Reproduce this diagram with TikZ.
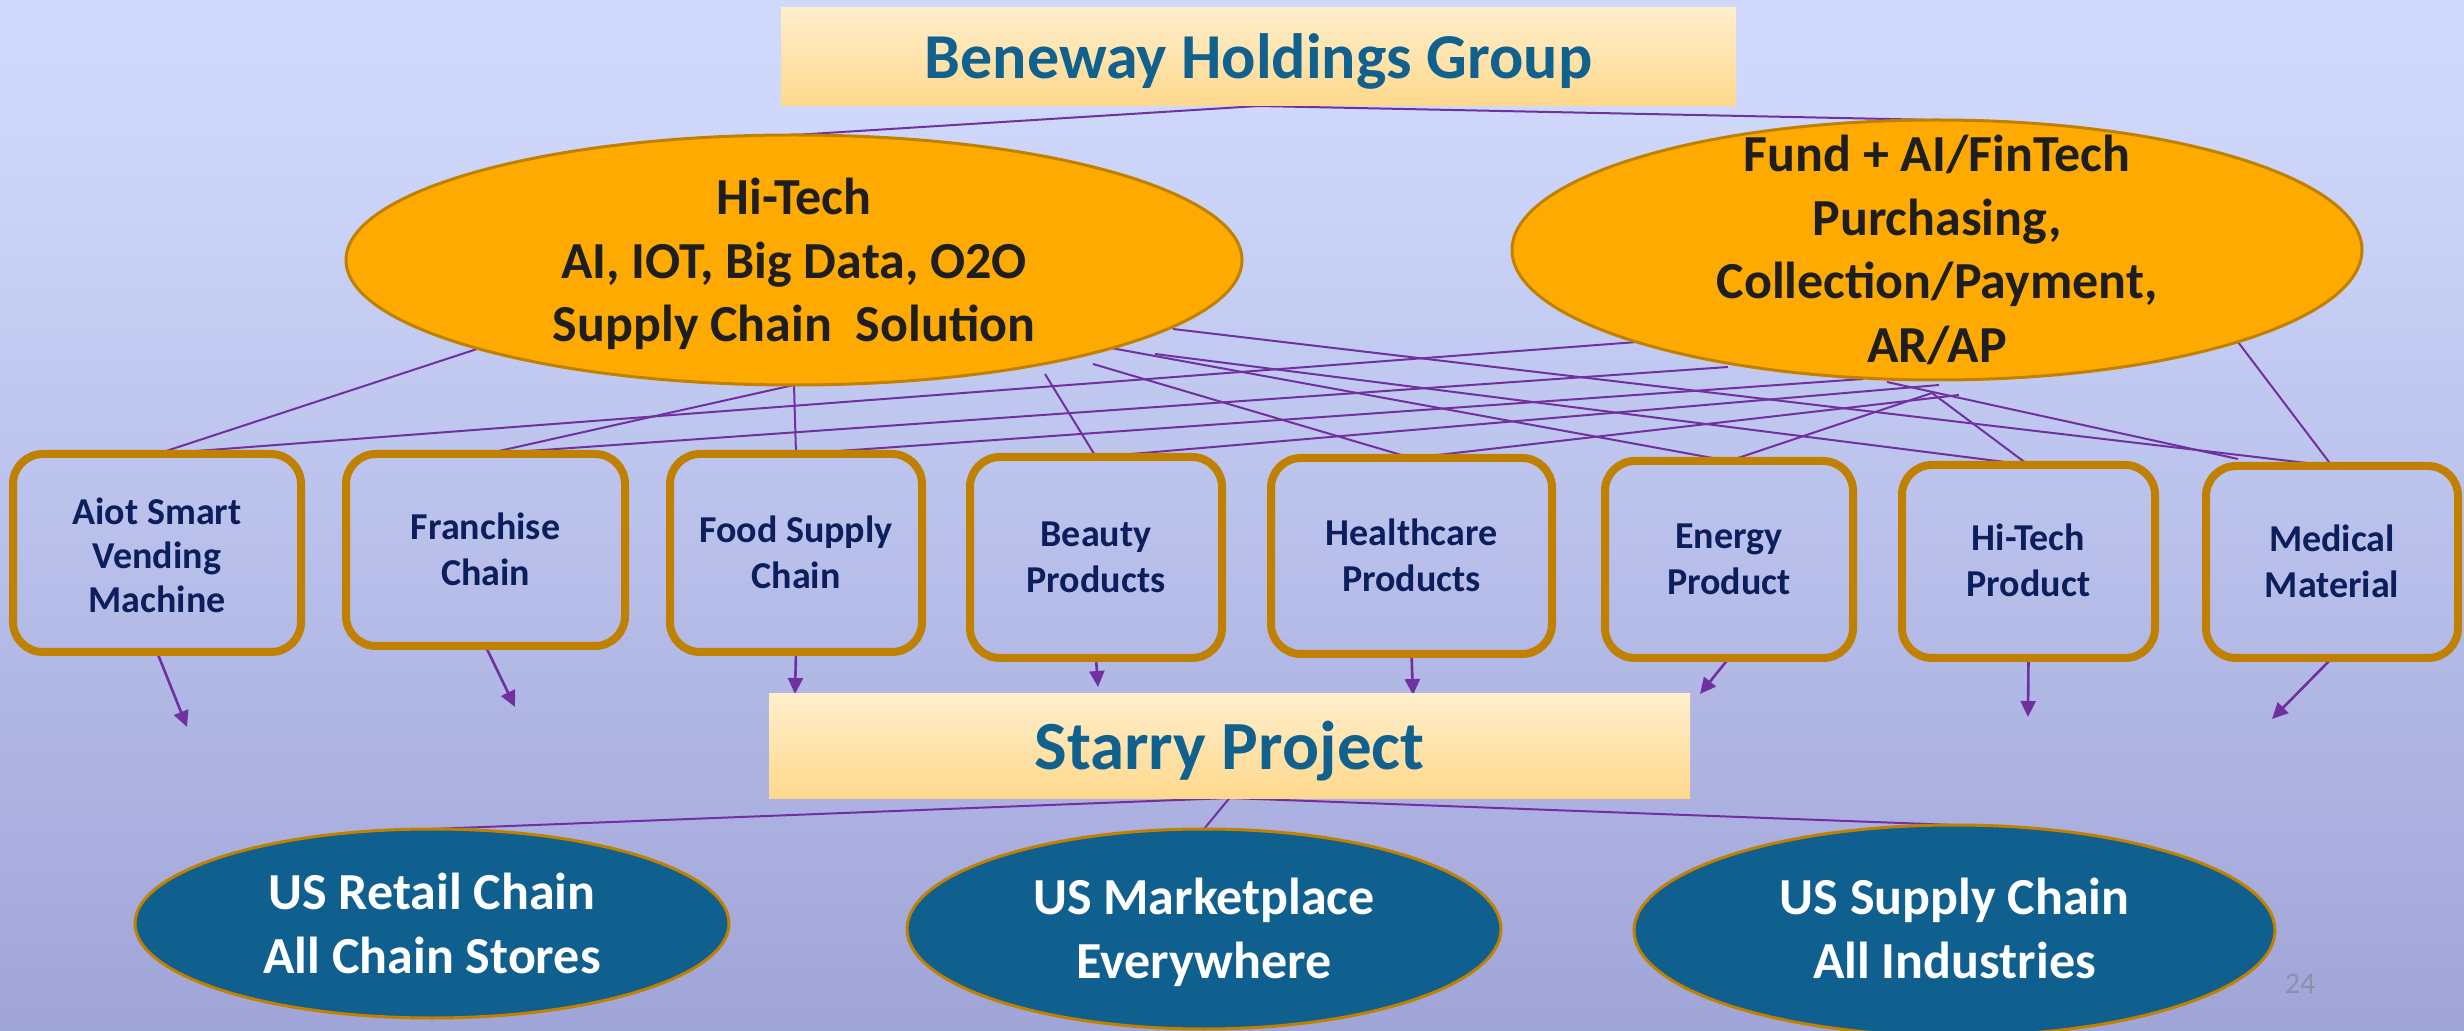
\documentclass[tikz,border=0pt]{standalone}
\usepackage{fontspec}
\setmainfont{Carlito}
\usetikzlibrary{shapes.geometric,arrows.meta,calc}

\definecolor{bgT}{RGB}{213,223,254}
\definecolor{bgM}{RGB}{207,216,251}
\definecolor{bgB}{RGB}{134,136,196}
\definecolor{banT}{RGB}{255,250,236}
\definecolor{banM}{RGB}{255,216,140}
\definecolor{banB}{RGB}{255,230,178}
\definecolor{titleblue}{RGB}{17,97,143}
\definecolor{ellorange}{RGB}{255,170,0}
\definecolor{ellborder}{RGB}{192,128,0}
\definecolor{tealfill}{RGB}{16,96,143}
\definecolor{darktext}{RGB}{30,30,30}
\definecolor{boxborder}{RGB}{192,128,0}
\definecolor{boxtext}{RGB}{12,30,92}
\definecolor{linkpurple}{RGB}{112,48,160}
\definecolor{pagegray}{RGB}{140,142,170}

\pgfdeclareverticalshading{bgshade}{100bp}{color(0bp)=(bgB); color(70bp)=(bgM); color(100bp)=(bgT)}
\pgfdeclareverticalshading{banshade}{100bp}{color(0bp)=(banB); color(25bp)=(banM); color(100bp)=(banT)}

\newcommand\mytop[1]{\rule{0pt}{#1pt}}
\newcommand\mybot[1]{\rule[-#1pt]{0pt}{0pt}}

\pgfdeclarelayer{background}
\pgfdeclarelayer{lines}
\pgfsetlayers{background,lines,main}

\tikzset{
  banner/.style={rectangle, inner sep=0pt, outer sep=0pt, shade, shading=banshade, text=titleblue},
  orangeell/.style={ellipse, inner xsep=0pt, inner ysep=-30pt, outer sep=0pt, fill=ellorange, draw=ellborder, line width=1.5pt, text=darktext, align=center, font=\fontsize{26}{31.75}\selectfont\bfseries},
  tealell/.style={ellipse, inner xsep=0pt, inner ysep=-30pt, outer sep=0pt, fill=tealfill, draw=ellborder, line width=1.5pt, text=white, align=center, font=\fontsize{26}{32}\selectfont\bfseries},
  catbox/.style={rectangle, rounded corners=15pt, draw=boxborder, line width=4pt, inner sep=0pt, outer sep=0pt, text=boxtext, align=center, font=\fontsize{19}{23}\selectfont\bfseries},
  conn/.style={draw=linkpurple, line width=1pt},
  arr/.style={draw=linkpurple, line width=1.3pt, -{Triangle[length=8pt,width=7.5pt]}}
}

\begin{document}
\begin{tikzpicture}[x=0.5pt, y=-0.5pt]
\useasboundingbox (0,0) rectangle (2464,1031);
\begin{pgfonlayer}{background}
  \shade[shading=bgshade] (0,0) rectangle (2464,1031);
\end{pgfonlayer}

% top banner
\node[banner, minimum width=477.5pt, minimum height=49pt, font=\fontsize{32}{38}\selectfont\bfseries] (top) at (1258.5,57) {\mytop{30}\mybot{8}Beneway Holdings Group};

% level-1 ellipses
\node[orangeell, minimum width=448pt, minimum height=125pt] (hitech) at (794,260)
  {\mytop{26.5}Hi-Tech\\AI, IOT, Big Data, O2O\\Supply Chain~ Solution\mybot{8}};
\node[orangeell, minimum width=425pt, minimum height=130pt] (fund) at (1937,250)
  {\mytop{25.25}Fund + AI/FinTech\\Purchasing,\\Collection/Payment,\\AR/AP\mybot{8}};

% category boxes
\node[catbox, minimum width=144pt, minimum height=99pt, font=\fontsize{19}{22}\selectfont\bfseries] (b1) at (157,553) {\mytop{22}Aiot Smart\\Vending\\Machine\mybot{6}};
\node[catbox, minimum width=139.5pt, minimum height=96pt] (b2) at (485.5,550) {\mytop{18.5}Franchise\\Chain\mybot{6}};
\node[catbox, minimum width=126pt, minimum height=99pt] (b3) at (796,553) {\mytop{18.5}Food Supply\\Chain\mybot{6}};
\node[catbox, minimum width=126pt, minimum height=100.5pt] (b4) at (1096,557.5) {\mytop{18.5}Beauty\\Products\mybot{6}};
\node[catbox, minimum width=140.5pt, minimum height=98pt] (b5) at (1411.5,556) {\mytop{18.5}Healthcare\\Products\mybot{6}};
\node[catbox, minimum width=124pt, minimum height=98.5pt] (b6) at (1729,559.5) {\mytop{18.5}Energy\\Product\mybot{6}};
\node[catbox, minimum width=126.5pt, minimum height=96.5pt] (b7) at (2028.5,561.5) {\mytop{18.5}Hi-Tech\\Product\mybot{6}};
\node[catbox, minimum width=126pt, minimum height=96pt] (b8) at (2332,562) {\mytop{18.5}Medical\\Material\mybot{6}};

% Starry banner
\node[banner, minimum width=460.5pt, minimum height=52pt, font=\fontsize{34.5}{40}\selectfont\bfseries] (starry) at (1229.5,746) {\mytop{31.3}\mybot{8}Starry Project};

% bottom ellipses
\node[tealell, minimum width=297pt, minimum height=94.5pt] (e1) at (432,923.5) {\mytop{25.5}US Retail Chain\\All Chain Stores\mybot{8}};
\node[tealell, minimum width=297pt, minimum height=100pt] (e2) at (1204,929) {\mytop{25.5}US Marketplace\\Everywhere\mybot{8}};
\node[tealell, minimum width=320.5pt, minimum height=105.5pt] (e3) at (1954.5,930.5) {\mytop{24}US Supply Chain\\All Industries\mybot{8}};

% page number
\node[anchor=base, inner sep=0pt, font=\fontsize{15}{18}\selectfont, text=pagegray] (pnum) at (2300,993) {24};

% arrow tips
\coordinate (t1) at (187,727);
\coordinate (t2) at (515,707);
\coordinate (t3) at (795,694);
\coordinate (t4) at (1098,687);
\coordinate (t5) at (1413,695);
\coordinate (t6) at (1700,694);
\coordinate (t7) at (2028,717);
\coordinate (t8) at (2272,719);

\begin{pgfonlayer}{lines}
  \draw[conn] (top.south) -- (hitech.north);
  \draw[conn] (top.south) -- (fund.north);

  \draw[conn] ([shift={(-317,89)}]hitech.center) -- (b1.north);
  \draw[conn] (hitech.south) -- (b2.north);
  \draw[conn] (hitech.south) -- (b3.north);
  \draw[conn] ([shift={(251,114)}]hitech.center) -- (b4.north);
  \draw[conn] ([shift={(299,104)}]hitech.center) -- (b5.north);
  \draw[conn] ([shift={(317,88)}]hitech.center) -- (b6.north);
  \draw[conn] ([shift={(361,94)}]hitech.center) -- (b7.north);
  \draw[conn] ([shift={(379,69)}]hitech.center) -- (b8.north);

  \draw[conn] (b1.north) -- ([shift={(-300,92)}]fund.center);
  \draw[conn] (b2.north) -- ([shift={(-209,117)}]fund.center);
  \draw[conn] (b3.north) -- ([shift={(-74,129)}]fund.center);
  \draw[conn] (b4.north) -- ([shift={(2,135)}]fund.center);
  \draw[conn] (b5.north) -- ([shift={(22,145)}]fund.center);
  \draw[conn] (b6.north) -- ([shift={(-5,143)}]fund.center);
  \draw[conn] (b7.north) -- ([shift={(-5,143)}]fund.center);
  \draw[conn] (b8.north) -- ([shift={(301,92)}]fund.center);
  \draw[conn] ([shift={(-50,132)}]fund.center) -- ([shift={(-94,-7)}]b8.north);

  \draw[conn] (starry.south) -- (e1.north);
  \draw[conn] (starry.south) -- (e2.north);
  \draw[conn] (starry.south) -- (e3.north);

  \draw[arr] (b1.south) -- (t1);
  \draw[arr] (b2.south) -- (t2);
  \draw[arr] (b3.south) -- (t3);
  \draw[arr] (b4.south) -- (t4);
  \draw[arr] (b5.south) -- (t5);
  \draw[arr] (b6.south) -- (t6);
  \draw[arr] (b7.south) -- (t7);
  \draw[arr] (b8.south) -- (t8);
\end{pgfonlayer}
\end{tikzpicture}
\end{document}
